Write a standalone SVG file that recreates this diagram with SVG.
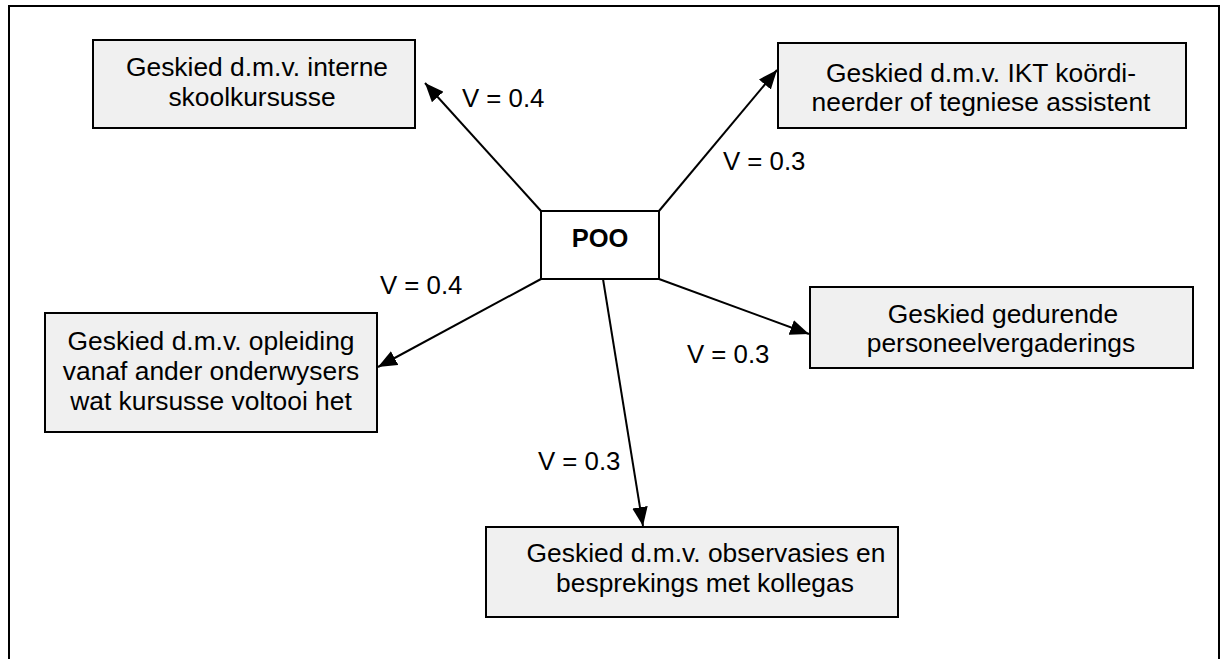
<svg xmlns="http://www.w3.org/2000/svg" width="1221" height="659" viewBox="0 0 1221 659">
<style>
.box{fill:#f0f0f0;stroke:#000;stroke-width:2}
.center{fill:#fff;stroke:#000;stroke-width:2}
.t{font-family:"Liberation Sans",Arial,sans-serif;font-size:26.4px;fill:#000;text-anchor:middle}
.lbl{font-family:"Liberation Sans",Arial,sans-serif;font-size:25.8px;fill:#000}
.b{font-weight:bold;font-size:25.5px}
.edge{stroke:#000;stroke-width:2;fill:none;marker-end:url(#ah)}
</style>
<defs>
<marker id="ah" markerUnits="userSpaceOnUse" markerWidth="20" markerHeight="16" refX="17" refY="7" orient="auto" viewBox="0 0 18 14">
<path d="M0,0 L17,7 L0,14 Z" fill="#000"/>
</marker>
<clipPath id="clipP"><rect x="810" y="287" width="383" height="70"/></clipPath>
</defs>
<rect id="frame" x="9" y="6" width="1210" height="720" fill="#fff" stroke="#000" stroke-width="2"/>
<g id="connectors">
<line class="edge" x1="541" y1="211" x2="425" y2="83"/>
<line class="edge" x1="659" y1="211" x2="777" y2="70"/>
<line class="edge" x1="541" y1="279" x2="378" y2="367"/>
<line class="edge" x1="659" y1="279" x2="809" y2="334"/>
<line class="edge" x1="603" y1="279" x2="643" y2="526"/>
</g>
<g id="labels">
<text class="lbl" x="462" y="107">V = 0.4</text>
<text class="lbl" x="723" y="170">V = 0.3</text>
<text class="lbl" x="380" y="294">V = 0.4</text>
<text class="lbl" x="687" y="363">V = 0.3</text>
<text class="lbl" x="538" y="470">V = 0.3</text>
</g>
<g id="node-poo">
<rect class="center" x="541" y="211" width="118" height="68"/>
<text class="t b" x="600" y="247">POO</text>
</g>
<g id="node-interne">
<rect class="box" x="93" y="40" width="322" height="88"/>
<text class="t" x="257" y="76">Geskied d.m.v. interne</text>
<text class="t" x="252" y="106">skoolkursusse</text>
</g>
<g id="node-ikt">
<rect class="box" x="778" y="43" width="408" height="85"/>
<text class="t" x="981" y="82">Geskied d.m.v. IKT koördi-</text>
<text class="t" x="981" y="111">neerder of tegniese assistent</text>
</g>
<g id="node-opleiding">
<rect class="box" x="45" y="313" width="332" height="119"/>
<text class="t" x="211" y="350">Geskied d.m.v. opleiding</text>
<text class="t" x="211" y="380">vanaf ander onderwysers</text>
<text class="t" x="211" y="410">wat kursusse voltooi het</text>
</g>
<g id="node-personeel">
<rect class="box" x="810" y="287" width="383" height="81"/>
<g clip-path="url(#clipP)">
<text class="t" x="1003" y="323">Geskied gedurende</text>
<text class="t" x="1001" y="352">personeelvergaderings</text>
</g>
</g>
<g id="node-observasies">
<rect class="box" x="486" y="527" width="412" height="90"/>
<text class="t" x="706" y="562">Geskied d.m.v. observasies en</text>
<text class="t" x="705" y="592">besprekings met kollegas</text>
</g>
</svg>
